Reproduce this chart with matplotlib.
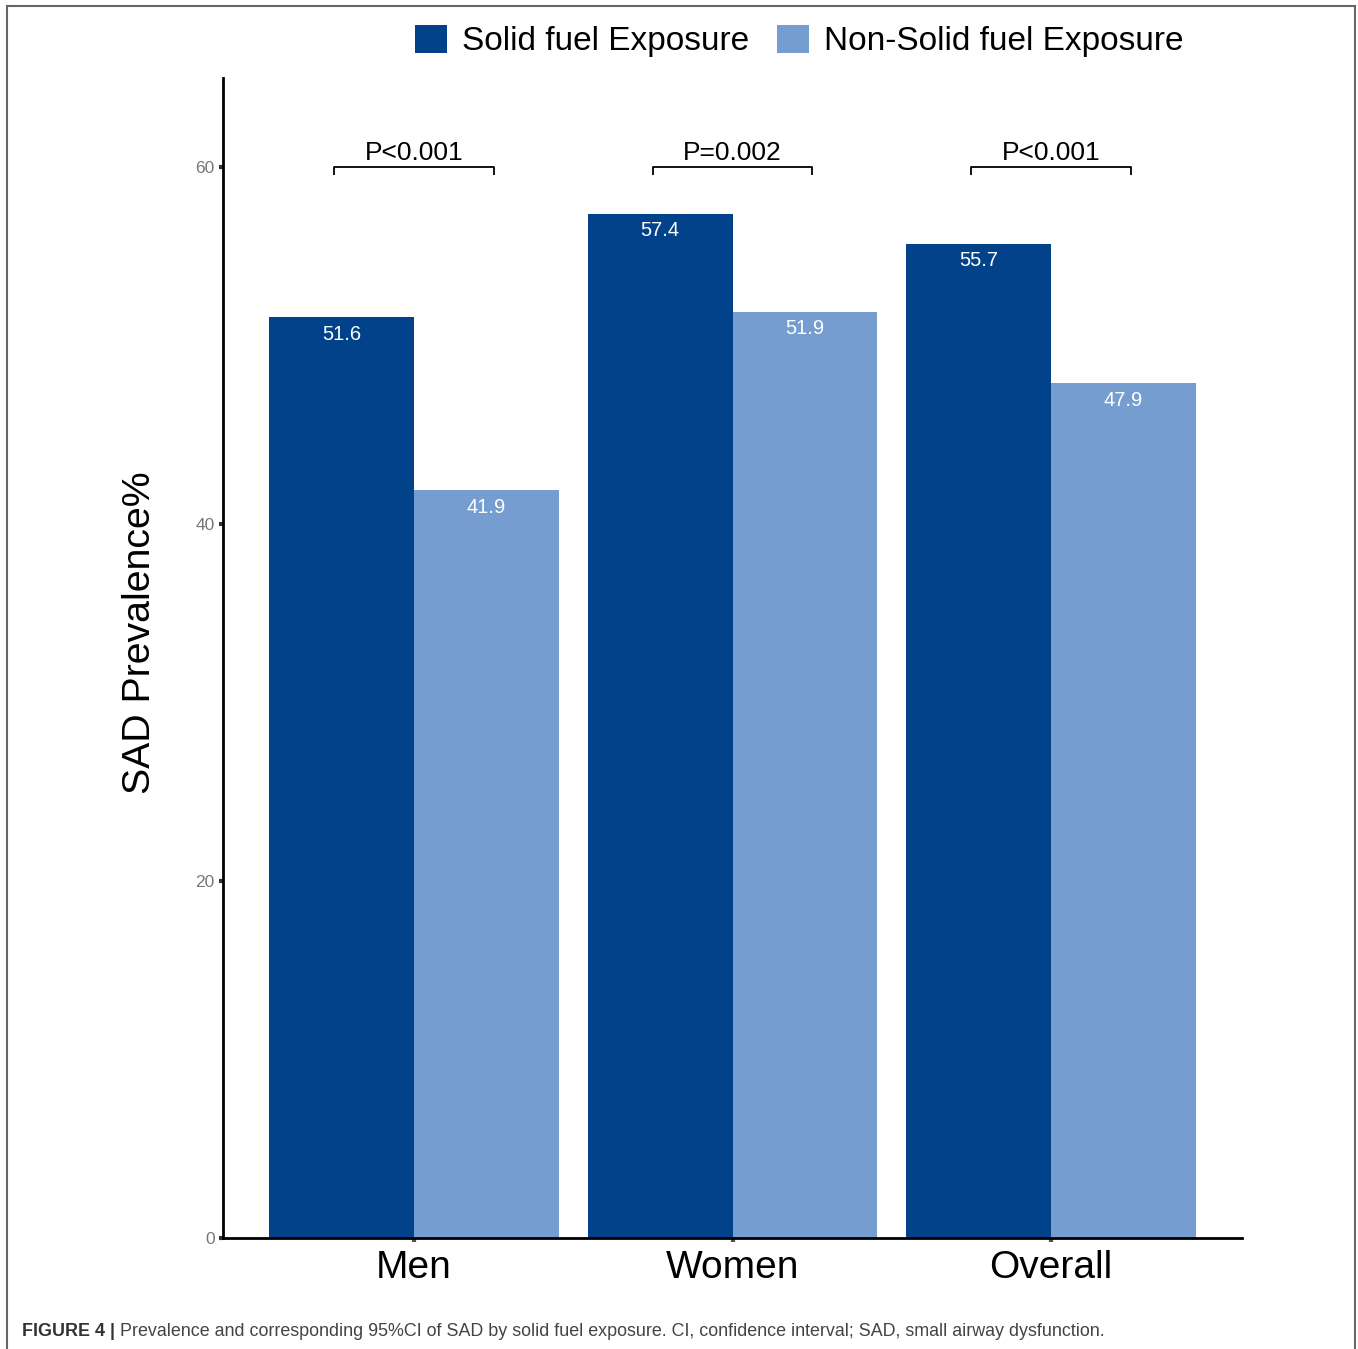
import matplotlib.pyplot as plt
from matplotlib.patches import Patch, Rectangle

plt.rcParams['font.family'] = ['Liberation Sans', 'DejaVu Sans']

# data
groups = ['Men', 'Women', 'Overall']
solid = [51.6, 57.4, 55.7]
non_solid = [41.9, 51.9, 47.9]
p_labels = ['P<0.001', 'P=0.002', 'P<0.001']
series_names = ['Solid fuel Exposure', 'Non-Solid fuel Exposure']
dark = '#01428A'
light = '#759DD0'

fig = plt.figure(figsize=(13.58, 13.49), dpi=100)
ax = fig.add_axes([0.1642, 0.0823, 0.9146 - 0.1642, 0.9422 - 0.0823])

x = [1, 2, 3]
w = 0.455
ax.bar([i - w / 2 for i in x], solid, width=w, color=dark)
ax.bar([i + w / 2 for i in x], non_solid, width=w, color=light)

# value labels inside the bars
for i, v in zip(x, solid):
    ax.text(i - w / 2, v - 0.95, f'{v}', ha='center', va='center',
            color='white', fontsize=14.5)
for i, v in zip(x, non_solid):
    ax.text(i + w / 2, v - 0.95, f'{v}', ha='center', va='center',
            color='white', fontsize=14.5)

# significance brackets
for i, lab in zip(x, p_labels):
    x0, x1 = i - 0.25, i + 0.25
    ax.plot([x0, x0, x1, x1], [59.55, 60, 60, 59.55], color='black', lw=1.3,
            solid_capstyle='butt', clip_on=False)
    ax.text(i, 60.1, lab, ha='center', va='bottom', fontsize=19)

ax.set_xlim(0.4, 3.6)
ax.set_ylim(0, 65)
ax.set_xticks(x)
ax.set_xticklabels(groups, fontsize=28)
ax.set_yticks([0, 20, 40, 60])
ax.tick_params(axis='y', length=3, width=3, color='#333333', labelcolor='#777777',
               labelsize=12.5, pad=3)
ax.tick_params(axis='x', length=3, width=3, color='#555555', labelcolor='black',
               pad=6)

for s in ['top', 'right']:
    ax.spines[s].set_visible(False)
for s in ['left', 'bottom']:
    ax.spines[s].set_linewidth(2)
    ax.spines[s].set_color('black')

fig.text(140 / 1358, 1 - 633 / 1349, 'SAD Prevalence%', rotation=90,
         ha='center', va='center', fontsize=28.3)

handles = [Patch(facecolor=dark), Patch(facecolor=light)]
fig.legend(handles, series_names, loc='center', ncol=2, frameon=False,
           bbox_to_anchor=(799 / 1358, 1 - 41 / 1349), fontsize=24,
           handlelength=0.95, handleheight=0.95, handletextpad=0.45,
           columnspacing=0.85)

# caption
cap = fig.text(22 / 1358, 1 - 1331 / 1349, 'FIGURE 4 | ', fontsize=12.9,
               fontweight='bold', color='#333333', va='center')
ax.annotate('Prevalence and corresponding 95%CI of SAD by solid fuel exposure. '
            'CI, confidence interval; SAD, small airway dysfunction.',
            xy=(1, 0.5), xycoords=cap, va='center', ha='left',
            fontsize=12.9, color='#444444', annotation_clip=False)

# figure frame
fig.patches.append(Rectangle((7 / 1358, -0.01), (1355 - 7) / 1358, 1 - 6 / 1349 + 0.01,
                             transform=fig.transFigure, fill=False,
                             edgecolor='#666666', lw=1.5))

fig.savefig('out.png', dpi=100)
